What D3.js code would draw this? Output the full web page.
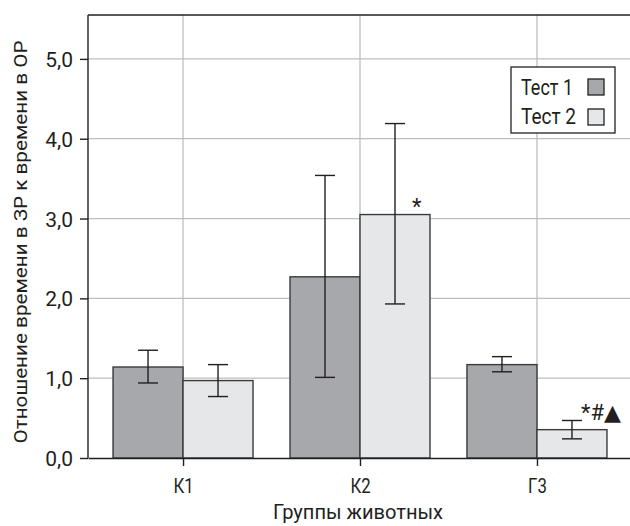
<!DOCTYPE html>
<html>
<head>
<meta charset="utf-8">
<script src="https://cdn.jsdelivr.net/npm/d3@7"></script>
<style>
  html, body { margin: 0; padding: 0; background: #fff; }
  svg { display: block; }
  text { font-family: Roboto, "DejaVu Sans", sans-serif; fill: #231f20; }
</style>
</head>
<body>
<div id="chart"></div>
<script>
// ---------------------------------------------------------------------------
// Data
// ---------------------------------------------------------------------------
const groups = ['К1', 'К2', 'Г3'];
const seriesNames = ['Тест 1', 'Тест 2'];
const test1Mean = [1.14, 2.27, 1.17];
const test1Low  = [0.94, 1.01, 1.08];
const test1High = [1.35, 3.54, 1.27];
const test2Mean = [0.97, 3.05, 0.355];
const test2Low  = [0.77, 1.93, 0.24];
const test2High = [1.17, 4.19, 0.47];
const marks2 = ['', '*', '*#▲'];   // significance marks above Тест 2 bars
const yTicks = [0, 1, 2, 3, 4, 5];

const colors = ['#a7a8ab', '#e6e7e8'];
const ink = '#231f20';

// ---------------------------------------------------------------------------
// Layout
// ---------------------------------------------------------------------------
const width = 630, height = 526;
const margin = { top: 15, left: 88, bottom: 68 };
const plotW = 544;
const plotH = height - margin.top - margin.bottom;

const svg = d3.select('#chart').append('svg')
  .attr('width', width)
  .attr('height', height);

const g = svg.append('g').attr('transform', `translate(${margin.left},${margin.top})`);

const x = d3.scalePoint().domain(groups).range([0, plotW]).padding(0.537);
const y = d3.scaleLinear().domain([0, 5.55]).range([plotH, 0]);
const barW = 70;

// gridlines
g.append('g').selectAll('line')
  .data(yTicks.filter(d => d > 0))
  .join('line')
  .attr('x1', 0).attr('x2', plotW)
  .attr('y1', d => y(d)).attr('y2', d => y(d))
  .attr('stroke', '#bcbec0').attr('stroke-width', 1.3);

g.append('g').selectAll('line')
  .data(groups)
  .join('line')
  .attr('x1', d => x(d)).attr('x2', d => x(d))
  .attr('y1', 0).attr('y2', plotH)
  .attr('stroke', '#bcbec0').attr('stroke-width', 1.3);

// bars
const rows = [];
groups.forEach((grp, i) => {
  rows.push({ grp, s: 0, v: test1Mean[i], lo: test1Low[i], hi: test1High[i], mark: '' });
  rows.push({ grp, s: 1, v: test2Mean[i], lo: test2Low[i], hi: test2High[i], mark: marks2[i] });
});
const bx = d => x(d.grp) + (d.s === 0 ? -barW : 0);

g.append('g').selectAll('rect')
  .data(rows)
  .join('rect')
  .attr('x', bx)
  .attr('y', d => y(d.v))
  .attr('width', barW)
  .attr('height', d => plotH - y(d.v))
  .attr('fill', d => colors[d.s])
  .attr('stroke', '#3a3a3c')
  .attr('stroke-width', 1.4);

// error bars
const eb = g.append('g').attr('stroke', ink).attr('stroke-width', 1.4);
rows.forEach(d => {
  const cx = bx(d) + barW / 2;
  eb.append('line').attr('x1', cx).attr('x2', cx).attr('y1', y(d.lo)).attr('y2', y(d.hi));
  eb.append('line').attr('x1', cx - 10).attr('x2', cx + 10).attr('y1', y(d.lo)).attr('y2', y(d.lo));
  eb.append('line').attr('x1', cx - 10).attr('x2', cx + 10).attr('y1', y(d.hi)).attr('y2', y(d.hi));
});

// significance marks
g.append('g').selectAll('text')
  .data(rows.filter(d => d.mark))
  .join('text')
  .attr('x', d => d.mark.length > 1 ? bx(d) + barW - 26 : bx(d) + barW - 18)
  .attr('y', d => y(d.v) - (d.mark.length > 1 ? 10 : 1))
  .attr('font-size', 22)
  .text(d => d.mark);

// top frame line
g.append('line').attr('x1', 0).attr('x2', plotW).attr('y1', 0).attr('y2', 0)
  .attr('stroke', ink).attr('stroke-width', 1.4);

// axes
const yAxis = g.append('g')
  .call(d3.axisLeft(y).tickValues(yTicks).tickSize(8)
    .tickFormat(d => d3.format('.1f')(d).replace('.', ',')));
const xAxis = g.append('g')
  .attr('transform', `translate(0,${plotH})`)
  .call(d3.axisBottom(x).tickSize(8).tickSizeOuter(0));

[yAxis, xAxis].forEach(a => {
  a.attr('font-family', null).attr('font-size', null);
  a.select('.domain').attr('stroke', ink).attr('stroke-width', 1.4);
  a.selectAll('.tick line').attr('stroke', ink).attr('stroke-width', 1.4);
  a.selectAll('.tick text').attr('font-size', 21).attr('fill', ink);
});
yAxis.select('.domain').attr('d', `M0,${plotH}V0`);
yAxis.selectAll('.tick text').attr('x', -15).attr('dy', '0.36em');
xAxis.selectAll('.tick text').attr('y', 20)
  .each(function() {
    // slightly condensed, like the original typeface
    const w = this.getComputedTextLength();
    d3.select(this).attr('textLength', w * 0.8).attr('lengthAdjust', 'spacingAndGlyphs');
  });

// axis titles
svg.append('text')
  .attr('transform', `translate(27,${margin.top + 227}) rotate(-90)`)
  .attr('text-anchor', 'middle')
  .attr('font-size', 19)
  .attr('textLength', 403)
  .attr('lengthAdjust', 'spacingAndGlyphs')
  .text('Отношение времени в ЗР к времени в ОР');

svg.append('text')
  .attr('x', 358)
  .attr('y', 519)
  .attr('text-anchor', 'middle')
  .attr('font-size', 20)
  .attr('textLength', 170)
  .attr('lengthAdjust', 'spacingAndGlyphs')
  .text('Группы животных');

// legend
const lg = svg.append('g').attr('transform', 'translate(511,67)');
lg.append('rect').attr('width', 104).attr('height', 66)
  .attr('fill', '#fff').attr('stroke', ink).attr('stroke-width', 1.3);
seriesNames.forEach((name, i) => {
  lg.append('text').attr('x', 10).attr('y', 28 + i * 29).attr('font-size', 22)
    .attr('textLength', i === 0 ? 52 : 55).attr('lengthAdjust', 'spacingAndGlyphs')
    .text(name);
  lg.append('rect').attr('x', 77).attr('y', 12 + i * 30).attr('width', 16).attr('height', 16)
    .attr('fill', colors[i]).attr('stroke', ink).attr('stroke-width', 1.3);
});
</script>
</body>
</html>
